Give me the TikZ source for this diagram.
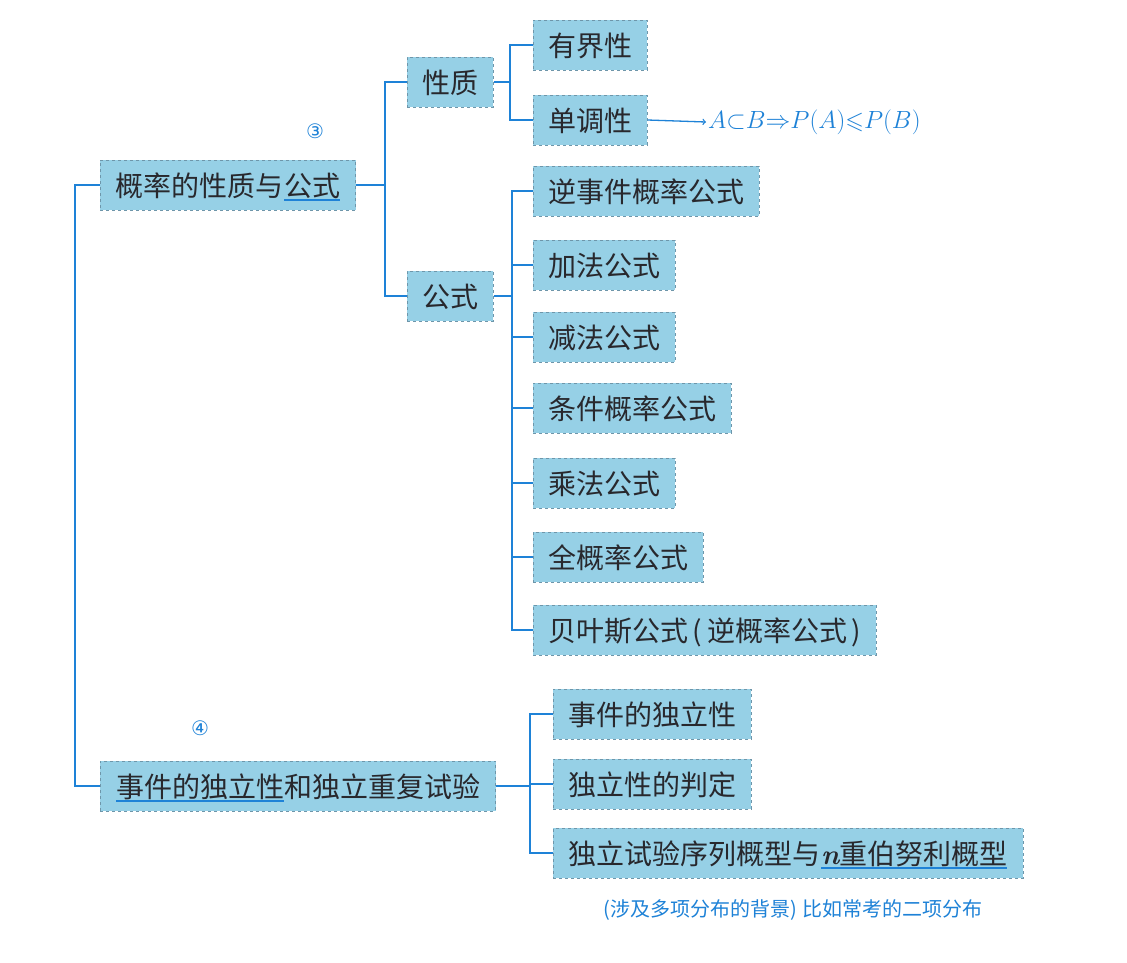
\documentclass[tikz,border=0pt]{standalone}
\usepackage{fontspec}
\usepackage{amssymb}
\newfontfamily\cjk{Noto Sans CJK SC}
\newfontfamily\dvs{DejaVu Sans}
\begin{document}
\definecolor{boxfill}{RGB}{150,208,230}
\definecolor{boxedge}{RGB}{110,150,170}
\definecolor{ln}{RGB}{30,130,215}
\definecolor{txt}{RGB}{40,40,45}
\newcommand{\bl}[1]{\tikz[baseline=(u.base)]{\node[inner sep=0pt,outer sep=0pt](u){#1};\draw[color=ln,line width=1.4pt]([yshift=-4pt]u.base west)--([yshift=-4pt]u.base east);}}
\begin{tikzpicture}[x=1pt,y=-1pt,
  box/.style={draw=boxedge,dashed,line width=0.6pt,fill=boxfill,minimum height=50pt,inner xsep=15pt,inner ysep=0pt,text height=25pt,text depth=3pt,font=\cjk\fontsize{28}{32}\selectfont,text=txt,anchor=west},
  con/.style={draw=ln,line width=1.3pt}]
\useasboundingbox (0,0) rectangle (1127,962);
\fill[white] (0,0) rectangle (1127,962);
\node[box] (A) at (100,185) {概率的性质与\bl{公式}};
\node[box] (xz) at (407,82) {性质};
\node[box] (yj) at (533,45) {有界性};
\node[box] (dd) at (533,120) {单调性};
\node[box] (gs) at (407,296) {公式};
\node[box] (f1) at (533,191) {逆事件概率公式};
\node[box] (f2) at (533,265) {加法公式};
\node[box] (f3) at (533,337) {减法公式};
\node[box] (f4) at (533,408) {条件概率公式};
\node[box] (f5) at (533,483) {乘法公式};
\node[box] (f6) at (533,557) {全概率公式};
\node[box] (f7) at (533,630) {贝叶斯公式\,(\,逆概率公式\,)};
\node[box] (B) at (100,786) {\bl{事件的独立性}和独立重复试验};
\node[box] (g1) at (553,714) {事件的独立性};
\node[box] (g2) at (553,784) {独立性的判定};
\node[box] (g3) at (553,853) {独立试验序列概型与\bl{{\rmfamily\bfseries\itshape n}重伯努利概型}};
\node[text=ln,font=\dvs\fontsize{20}{22}\selectfont] (c3) at (315,131) {③};
\node[text=ln,font=\dvs\fontsize{20}{22}\selectfont] (c4) at (200,728) {④};
\node[text=ln,font=\cjk\fontsize{20}{24}\selectfont] (note) at (793,910) {(涉及多项分布的背景)\;比如常考的二项分布};
\node[text=ln,anchor=west,font=\fontsize{24}{28}\selectfont,inner sep=2pt] (fm) at (706,122) {$A{\subset}B{\Rightarrow}P(A){\leqslant}P(B)$};
\draw[con,->] (dd.east) -- (fm.west);
% trunk
\coordinate (t) at (75,185);
\draw[con] (A.west) -- (t) -- (t |- B.west) -- (B.west);
\coordinate (a1) at (385,0);
\draw[con] (A.east) -- (a1 |- A.east);
\draw[con] (xz.west) -- (a1 |- xz.west) -- (a1 |- gs.west) -- (gs.west);
\coordinate (b1) at (510,0);
\draw[con] (xz.east) -- (b1 |- xz.east);
\draw[con] (yj.west) -- (b1 |- yj.west) -- (b1 |- dd.west) -- (dd.west);
\coordinate (b2) at (512,0);
\draw[con] (gs.east) -- (b2 |- gs.east);
\draw[con] (f1.west) -- (b2 |- f1.west) -- (b2 |- f7.west) -- (f7.west);
\foreach \n in {f2,f3,f4,f5,f6} \draw[con] (b2 |- \n.west) -- (\n.west);
\coordinate (b3) at (530,0);
\draw[con] (B.east) -- (b3 |- B.east);
\draw[con] (g1.west) -- (b3 |- g1.west) -- (b3 |- g3.west) -- (g3.west);
\draw[con] (b3 |- g2.west) -- (g2.west);
\end{tikzpicture}
\end{document}
